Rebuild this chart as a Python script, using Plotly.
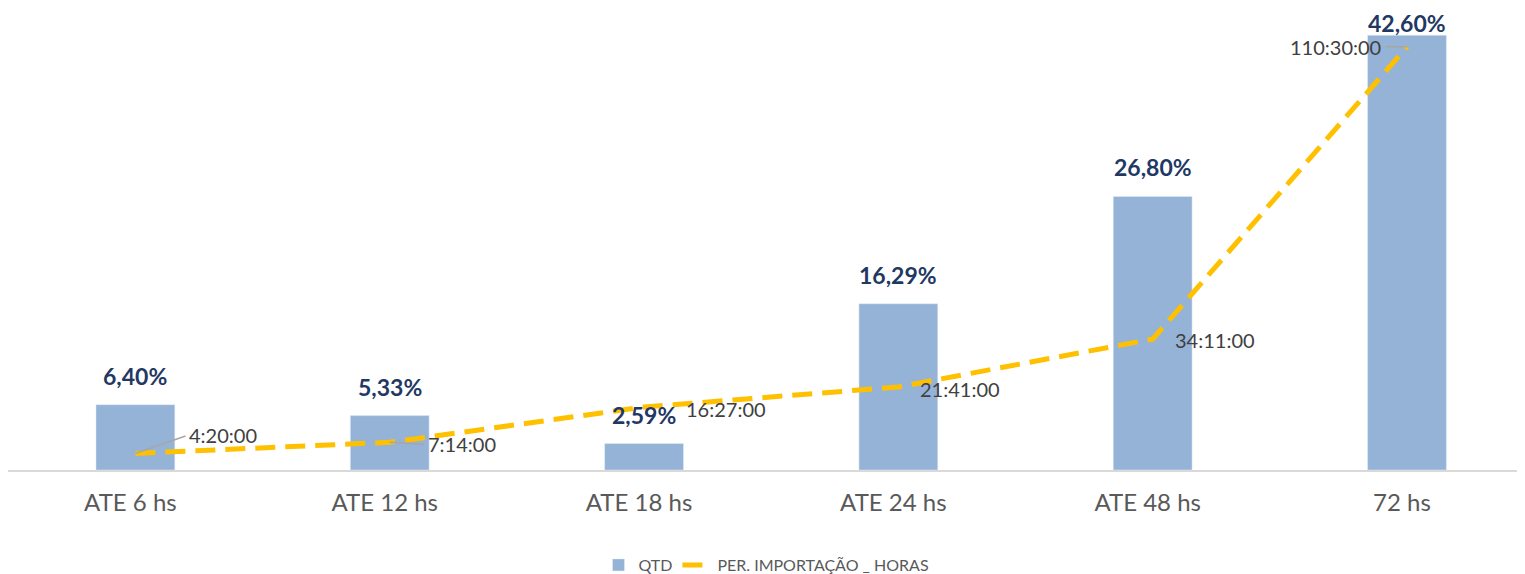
import plotly.graph_objects as go

categories = ["ATE 6 hs", "ATE 12 hs", "ATE 18 hs", "ATE 24 hs", "ATE 48 hs", "72 hs"]
qtd_pct = [6.40, 5.33, 2.59, 16.29, 26.80, 42.60]
qtd_labels = ["6,40%", "5,33%", "2,59%", "16,29%", "26,80%", "42,60%"]
horas_labels = ["4:20:00", "7:14:00", "16:27:00", "21:41:00", "34:11:00", "110:30:00"]


def to_hours(s):
    h, m, sec = (int(p) for p in s.split(":"))
    return h + m / 60 + sec / 3600


horas = [to_hours(s) for s in horas_labels]
xs = list(range(len(categories)))

BAR = "#95B3D7"
LINE = "#FFC000"
NAVY = "#1F3864"
GRAY = "#595959"
FONT = "Lato, 'Open Sans', sans-serif"

fig = go.Figure()
fig.add_trace(go.Bar(x=xs, y=qtd_pct, name="QTD", marker_color=BAR, width=0.31,
                     hoverinfo="skip"))
fig.add_trace(go.Scatter(x=xs, y=horas, name="PER. IMPORTAÇÃO _ HORAS", yaxis="y2",
                         mode="lines", line=dict(color=LINE, width=5, dash="20px,10px"),
                         hoverinfo="skip"))

annotations = []
pct_shift = [13, 13, 13, 13, 13, -4]
for x, v, t, s in zip(xs, qtd_pct, qtd_labels, pct_shift):
    annotations.append(dict(x=x, y=v, xref="x", yref="y", text=f"<b>{t}</b>",
                            showarrow=False, yanchor="bottom", yshift=s,
                            font=dict(family=FONT, size=23, color=NAVY)))

# time label placements (style offsets)
placements = [
    dict(showarrow=True, ax=52, ay=-18, xanchor="left"),
    dict(showarrow=True, ax=36, ay=2, xanchor="left"),
    dict(showarrow=False, xshift=40, yshift=-2, xanchor="left"),
    dict(showarrow=False, xshift=20, yshift=-2, xanchor="left"),
    dict(showarrow=False, xshift=20, yshift=-1, xanchor="left"),
    dict(showarrow=True, ax=-24, ay=0, xanchor="right"),
]
for x, h, t, p in zip(xs, horas, horas_labels, placements):
    a = dict(x=x, y=h, xref="x", yref="y2", text=t,
             font=dict(family=FONT, size=20, color="#404040"), yanchor="middle")
    a.update(p)
    if a.get("showarrow"):
        a.update(arrowhead=0, arrowwidth=1.5, arrowcolor="#A6A6A6", standoff=0,
                 startstandoff=2)
    annotations.append(a)

fig.update_layout(
    width=1517, height=566,
    margin=dict(l=0, r=0, t=17, b=104, autoexpand=False),
    paper_bgcolor="white", plot_bgcolor="white",
    font=dict(family=FONT, color=GRAY),
    xaxis=dict(range=[-0.501, 5.464], tickmode="array", tickvals=xs, ticktext=categories,
               tickfont=dict(size=24, color=GRAY), showgrid=False, zeroline=False,
               showline=True, linecolor="#D9D9D9", linewidth=1.5, ticks="",
               ticklabelstandoff=10, ticklabelshift=-5, automargin=False),
    yaxis=dict(range=[0, 43.6], visible=False),
    yaxis2=dict(range=[0, 116.2], overlaying="y", visible=False),
    legend=dict(orientation="h", x=0.5, xanchor="center", y=-0.2135, yanchor="middle",
                font=dict(size=16, color=GRAY)),
    annotations=annotations,
    bargap=0.5,
)

fig.write_html("out.html")
